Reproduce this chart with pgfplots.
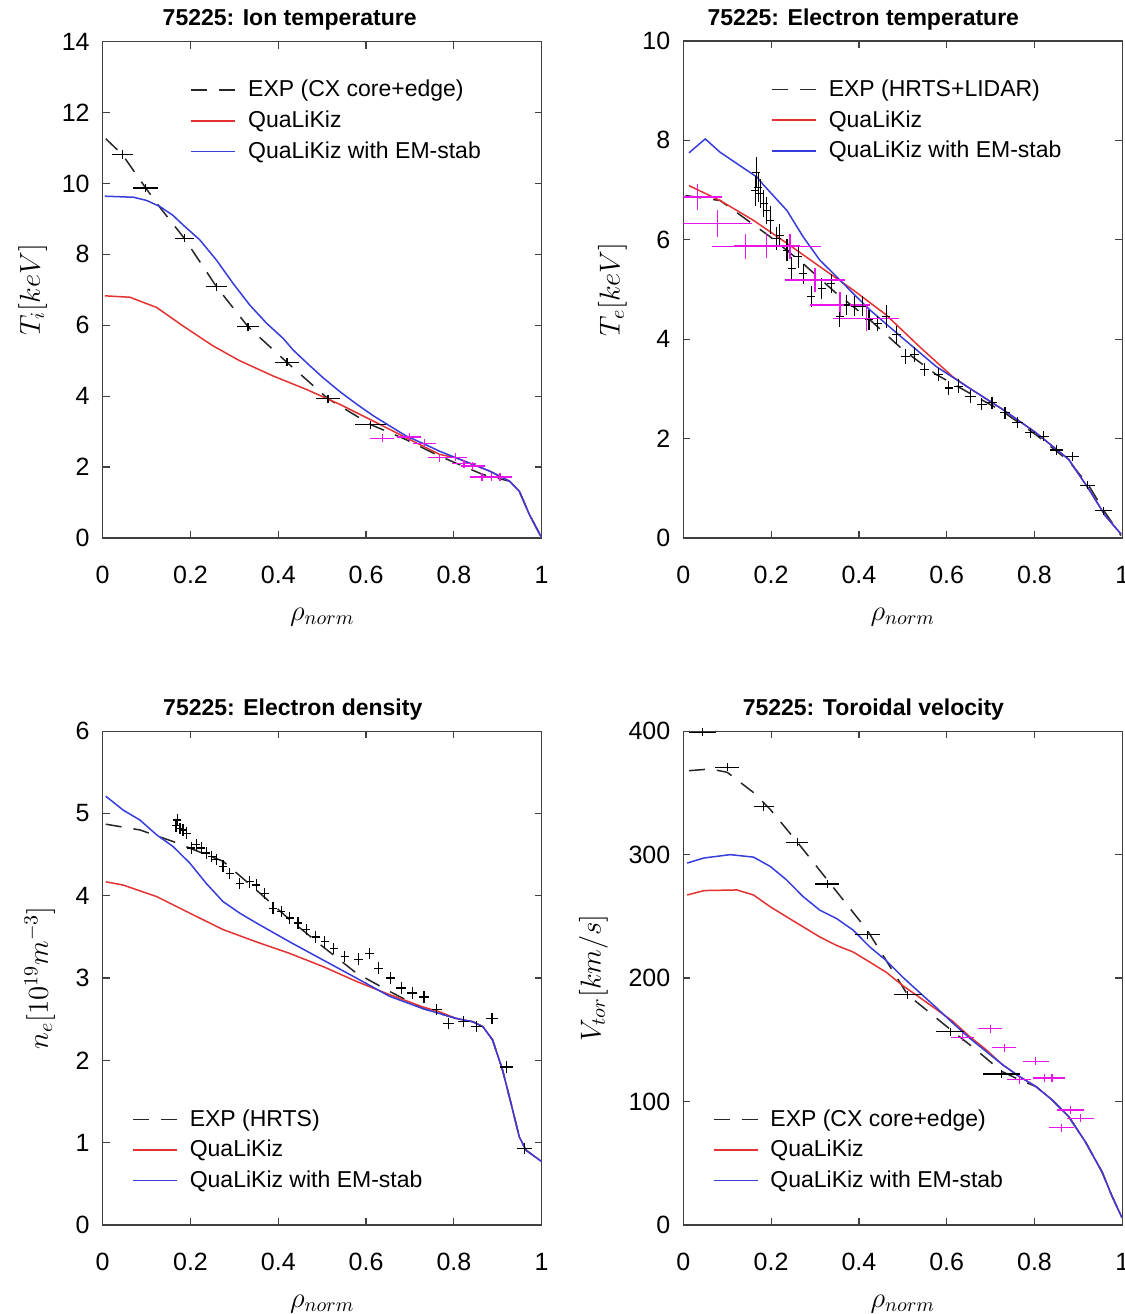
\documentclass[border=0pt]{standalone}
\usepackage[no-math]{fontspec}
\setmainfont{Liberation Sans}
\usepackage{pgfplots}
\pgfplotsset{compat=1.18}
\definecolor{mred}{RGB}{228,50,50}
\definecolor{mblue}{RGB}{55,60,220}
\definecolor{mmag}{RGB}{235,20,235}
\pgfplotsset{
  myax/.style={
    scale only axis, width=219.5pt, xmin=0, xmax=1,
    xtick={0,0.2,0.4,0.6,0.8,1},
    xticklabels={0,0.2,0.4,0.6,0.8,1},
    tick align=inside, major tick length=3.5pt,
    axis line style={black!75, line width=0.6pt},
    every tick/.style={black!75, line width=0.6pt},
    tick label style={font=\fontsize{12.5}{14}\selectfont},
    /pgf/number format/assume math mode=true,
    xticklabel style={yshift=-10.5pt},
    yticklabel style={xshift=-3pt},
    title style={font=\bfseries\fontsize{11.5}{13}\selectfont, anchor=south, yshift=-4pt},
    label style={font=\fontsize{14}{16}\selectfont},
    xlabel={$\rho_{norm}$},
    xlabel style={at={(axis description cs:0.5,0)}, anchor=center, yshift=-39.5pt},
    legend style={draw=none, fill=none, font=\fontsize{11.5}{13}\selectfont, row sep=1.5pt,
      cells={anchor=west}, inner sep=1pt,
      /tikz/every odd column/.append style={column sep=4pt}},
    legend image code/.code={\draw[#1] (0pt,0pt) -- (22pt,0pt);},
    clip=true,
  },
  expl/.style={black!85, line width=0.75pt, dash pattern=on 8pt off 6pt},
  redl/.style={mred, line width=0.75pt},
  bluel/.style={mblue, line width=0.75pt},
  dat/.style={color=#1, draw=#1, only marks, mark=+, mark size=2pt, forget plot,
    mark options={draw=#1, line width=0.6pt},
    error bars/.cd, x dir=both, x explicit, y dir=both, y explicit,
    error mark=none, error bar style={draw=#1, line width=0.6pt}},
}
\begin{document}
\begin{tikzpicture}
%%%%%%%%%%%%%%%%%%%% TL
\begin{axis}[myax, at={(51.35pt,388pt)}, anchor=south west, height=248.2pt,
  ymin=0, ymax=14, ytick={0,2,4,6,8,10,12,14},
  title={75225: Ion temperature},
  title style={at={(axis description cs:0.426,1)}},
  ylabel={$T_i[keV]$},
  ylabel style={at={(axis description cs:0,0.5)}, anchor=center, yshift=35pt},
  legend style={at={(0.195,0.935)}, anchor=north west},
  legend entries={EXP (CX core+edge), QuaLiKiz, QuaLiKiz with EM-stab}]
\addplot[expl] table {
0.007 11.26
0.045 10.81
0.098 9.87
0.13 9.33
0.186 8.45
0.259 7.09
0.331 5.96
0.42 4.95
0.513 3.93
0.610 3.20
0.69 2.78
0.767 2.31
0.866 1.79
0.927 1.60
0.949 1.32
0.972 0.66
1.0 0.0
};
\addplot[redl] table {
0.005 6.83
0.062 6.79
0.123 6.50
0.183 5.98
0.251 5.42
0.312 5.00
0.388 4.57
0.464 4.19
0.540 3.77
0.616 3.30
0.691 2.83
0.767 2.36
0.805 2.26
0.881 1.89
0.927 1.60
0.949 1.32
0.972 0.66
1.0 0.0
};
\addplot[bluel] table {
0.005 9.64
0.07 9.61
0.10 9.52
0.13 9.35
0.16 9.10
0.183 8.83
0.221 8.41
0.259 7.84
0.297 7.18
0.335 6.57
0.373 6.06
0.411 5.63
0.434 5.30
0.47 4.88
0.502 4.52
0.54 4.13
0.578 3.78
0.616 3.45
0.654 3.16
0.691 2.88
0.729 2.67
0.767 2.45
0.805 2.26
0.881 1.89
0.927 1.60
0.949 1.32
0.972 0.66
1.0 0.0
};
\addplot[dat=black] table[x error index=2, y error index=3] {
0.045 10.81 0.024 0.12
0.098 9.87 0.028 0.1
0.186 8.45 0.022 0.1
0.259 7.09 0.024 0.1
0.331 5.96 0.025 0.1
0.42 4.95 0.028 0.1
0.513 3.93 0.028 0.1
0.610 3.20 0.036 0.1
};
\addplot[dat=mmag] table[x error index=2, y error index=3] {
0.637 2.81 0.027 0.1
0.698 2.85 0.027 0.1
0.733 2.67 0.027 0.1
0.767 2.26 0.027 0.1
0.803 2.28 0.027 0.1
0.823 2.10 0.027 0.1
0.843 2.03 0.027 0.1
0.864 1.72 0.027 0.1
0.885 1.72 0.027 0.1
0.905 1.72 0.027 0.1
};
\end{axis}
%%%%%%%%%%%%%%%%%%%% TR
\begin{axis}[myax, at={(341.65pt,388pt)}, anchor=south west, height=248.5pt,
  ymin=0, ymax=10, ytick={0,2,4,6,8,10},
  title={75225: Electron temperature},
  title style={at={(axis description cs:0.41,1)}},
  ylabel={$T_e[keV]$},
  ylabel style={at={(axis description cs:0,0.5)}, anchor=center, yshift=35.5pt},
  legend style={at={(0.195,0.935)}, anchor=north west},
  legend entries={EXP (HRTS+LIDAR), QuaLiKiz, QuaLiKiz with EM-stab}]
\addplot[expl] table {
0.005 6.89
0.084 6.79
0.198 6.06
0.273 5.52
0.349 4.92
0.425 4.39
0.500 3.79
0.576 3.29
0.651 2.92
0.727 2.55
0.803 2.08
0.878 1.55
0.924 1.05
0.961 0.51
0.997 0.05
};
\addplot[redl] table {
0.013 7.09
0.084 6.79
0.16 6.39
0.236 5.93
0.311 5.46
0.387 4.99
0.462 4.49
0.538 3.85
0.613 3.25
0.651 3.02
0.727 2.59
0.803 2.12
0.878 1.58
0.924 0.98
0.961 0.45
0.997 0.08
};
\addplot[bluel] table {
0.013 7.75
0.05 8.03
0.084 7.76
0.168 7.26
0.182 7.11
0.236 6.59
0.273 6.06
0.311 5.59
0.349 5.26
0.387 4.92
0.425 4.59
0.455 4.36
0.5 4.02
0.576 3.45
0.651 3.02
0.727 2.59
0.803 2.12
0.878 1.58
0.924 0.98
0.961 0.45
0.997 0.08
};
\addplot[dat=black] table[x error index=2, y error index=3] {
0.166 7.36 0.008 0.30
0.164 6.99 0.008 0.30
0.171 7.06 0.008 0.30
0.175 6.93 0.008 0.30
0.183 6.73 0.008 0.28
0.190 6.59 0.008 0.28
0.198 6.39 0.008 0.28
0.213 6.03 0.008 0.23
0.220 6.09 0.008 0.23
0.236 5.79 0.008 0.22
0.247 5.42 0.008 0.23
0.262 5.66 0.008 0.22
0.273 5.32 0.008 0.20
0.292 4.86 0.008 0.22
0.315 5.02 0.008 0.22
0.337 5.12 0.008 0.20
0.356 4.46 0.008 0.22
0.371 4.69 0.008 0.20
0.390 4.66 0.008 0.20
0.408 4.66 0.008 0.20
0.423 4.39 0.008 0.20
0.443 4.32 0.008 0.15
0.462 4.46 0.008 0.23
0.485 4.09 0.010 0.18
0.506 3.65 0.010 0.15
0.527 3.69 0.010 0.15
0.549 3.39 0.010 0.14
0.582 3.29 0.010 0.14
0.605 3.02 0.010 0.14
0.627 3.05 0.010 0.14
0.654 2.85 0.012 0.13
0.680 2.69 0.012 0.12
0.703 2.72 0.012 0.12
0.733 2.52 0.012 0.12
0.761 2.32 0.012 0.11
0.790 2.12 0.012 0.10
0.820 2.05 0.013 0.10
0.850 1.77 0.014 0.10
0.886 1.64 0.015 0.10
0.920 1.06 0.017 0.08
0.957 0.55 0.019 0.06
};
\addplot[dat=mmag] table[x error index=2, y error index=3] {
0.032 6.86 0.056 0.27
0.077 6.33 0.080 0.27
0.141 5.86 0.075 0.25
0.190 5.89 0.075 0.25
0.243 5.86 0.070 0.25
0.300 5.19 0.068 0.25
0.357 4.69 0.068 0.25
0.417 4.42 0.075 0.25
};
\end{axis}
%%%%%%%%%%%%%%%%%%%% BL
\begin{axis}[myax, at={(51.35pt,44.5pt)}, anchor=south west, height=246.9pt,
  ymin=0, ymax=6, ytick={0,1,2,3,4,5,6},
  title={75225: Electron density},
  title style={at={(axis description cs:0.433,1)}},
  ylabel={$n_e[10^{19}m^{-3}]$},
  ylabel style={at={(axis description cs:0,0.5)}, anchor=center, yshift=31.5pt},
  legend style={at={(0.062,0.057)}, anchor=south west},
  legend entries={EXP (HRTS), QuaLiKiz, QuaLiKiz with EM-stab}]
\addplot[expl] table {
0.007 4.87
0.085 4.80
0.16 4.66
0.198 4.58
0.274 4.42
0.35 4.07
0.426 3.71
0.502 3.38
0.578 3.06
0.653 2.84
0.729 2.63
0.767 2.57
0.805 2.51
0.843 2.47
0.866 2.41
0.888 2.25
0.911 1.88
0.930 1.48
0.949 1.07
0.964 0.91
1.0 0.77
};
\addplot[redl] table {
0.007 4.17
0.047 4.13
0.123 3.99
0.198 3.79
0.274 3.59
0.35 3.44
0.426 3.30
0.502 3.14
0.578 2.96
0.653 2.80
0.729 2.65
0.767 2.59
0.805 2.51
0.843 2.47
0.866 2.41
0.888 2.25
0.911 1.88
0.930 1.48
0.949 1.07
0.964 0.91
1.0 0.77
};
\addplot[bluel] table {
0.007 5.21
0.047 5.04
0.085 4.92
0.123 4.74
0.16 4.60
0.198 4.40
0.236 4.15
0.274 3.93
0.312 3.79
0.35 3.67
0.426 3.44
0.502 3.22
0.578 3.00
0.653 2.78
0.729 2.63
0.767 2.57
0.805 2.51
0.843 2.47
0.866 2.41
0.888 2.25
0.911 1.88
0.930 1.48
0.949 1.07
0.964 0.91
1.0 0.77
};
\addplot[dat=black] table[x error index=2, y error index=3] {
0.167 4.85 0.008 0.07
0.170 4.92 0.008 0.07
0.176 4.82 0.008 0.07
0.183 4.80 0.008 0.07
0.191 4.76 0.008 0.07
0.202 4.58 0.008 0.07
0.213 4.62 0.008 0.07
0.225 4.58 0.008 0.07
0.236 4.52 0.008 0.07
0.248 4.48 0.008 0.07
0.259 4.44 0.008 0.07
0.274 4.36 0.008 0.07
0.289 4.27 0.008 0.07
0.312 4.15 0.008 0.07
0.335 4.17 0.008 0.07
0.350 4.13 0.008 0.07
0.369 4.03 0.008 0.07
0.388 3.85 0.008 0.07
0.407 3.81 0.008 0.07
0.426 3.73 0.008 0.07
0.445 3.67 0.008 0.07
0.464 3.59 0.008 0.07
0.485 3.50 0.009 0.07
0.506 3.44 0.009 0.07
0.526 3.36 0.009 0.07
0.551 3.26 0.009 0.07
0.582 3.23 0.010 0.07
0.607 3.30 0.010 0.07
0.629 3.12 0.010 0.07
0.656 3.00 0.010 0.07
0.680 2.88 0.011 0.07
0.705 2.82 0.011 0.07
0.732 2.77 0.011 0.07
0.761 2.62 0.012 0.07
0.788 2.45 0.012 0.07
0.822 2.47 0.013 0.07
0.851 2.41 0.013 0.07
0.887 2.51 0.014 0.07
0.919 1.92 0.015 0.07
0.961 0.93 0.017 0.07
};
\end{axis}
%%%%%%%%%%%%%%%%%%%% BR
\begin{axis}[myax, at={(341.65pt,44.5pt)}, anchor=south west, height=246.9pt,
  ymin=0, ymax=400, ytick={0,100,200,300,400},
  title={75225: Toroidal velocity},
  title style={at={(axis description cs:0.433,1)}},
  ylabel={$V_{tor}[km/s]$},
  ylabel style={at={(axis description cs:0,0.5)}, anchor=center, yshift=45pt},
  legend style={at={(0.062,0.057)}, anchor=south west},
  legend entries={EXP (CX core+edge), QuaLiKiz, QuaLiKiz with EM-stab}]
\addplot[expl] table {
0.013 368
0.062 369.4
0.100 366.7
0.160 350.3
0.198 336.7
0.260 310
0.328 279.6
0.419 238.8
0.511 186.5
0.608 158.5
0.666 142.2
0.725 124.5
0.765 117.7
0.803 112.2
0.840 101.4
0.878 87.8
0.916 67.3
0.954 42.9
0.976 23.8
0.999 6.1
};
\addplot[redl] table {
0.009 267.3
0.047 270.9
0.122 271.4
0.160 267.3
0.198 257.8
0.235 249.7
0.273 241.5
0.311 233.3
0.349 226.5
0.387 221.1
0.425 212.9
0.462 204.8
0.500 193.9
0.538 184.4
0.576 174.8
0.613 165.3
0.651 153.0
0.689 142.2
0.727 129.9
0.765 120.4
0.803 112.2
0.840 101.4
0.878 87.8
0.916 67.3
0.954 42.9
0.976 23.8
0.999 6.1
};
\addplot[bluel] table {
0.009 293.2
0.047 297.3
0.107 300
0.160 298
0.198 290.5
0.235 279.6
0.273 266
0.311 255
0.349 248.3
0.387 238.8
0.425 225.2
0.462 214.3
0.500 200.7
0.538 188.4
0.576 176.2
0.613 163.9
0.651 151.7
0.689 140.8
0.727 129.9
0.765 120.4
0.803 112.2
0.840 101.4
0.878 87.8
0.916 67.3
0.954 42.9
0.976 23.8
0.999 6.1
};
\addplot[dat=black] table[x error index=2, y error index=3] {
0.044 399 0.030 3
0.100 370.7 0.028 3
0.183 338.8 0.023 3
0.260 310 0.025 3
0.328 276.3 0.027 3
0.419 235.2 0.028 3
0.511 186.5 0.032 3
0.608 156.6 0.032 3
0.725 122.3 0.043 3
};
\addplot[dat=mmag] table[x error index=2, y error index=3] {
0.636 152.2 0.027 3
0.699 159.0 0.027 3
0.731 143.5 0.027 3
0.765 117.7 0.027 3
0.803 132.7 0.030 3
0.823 119.0 0.027 3
0.840 119.0 0.030 3
0.882 93.2 0.030 3
0.905 86.4 0.030 3
0.861 78.8 0.028 3
};
\end{axis}
\pgfresetboundingbox
\path[use as bounding box] (0,0) rectangle (562.5pt,657pt);
\end{tikzpicture}
\end{document}
